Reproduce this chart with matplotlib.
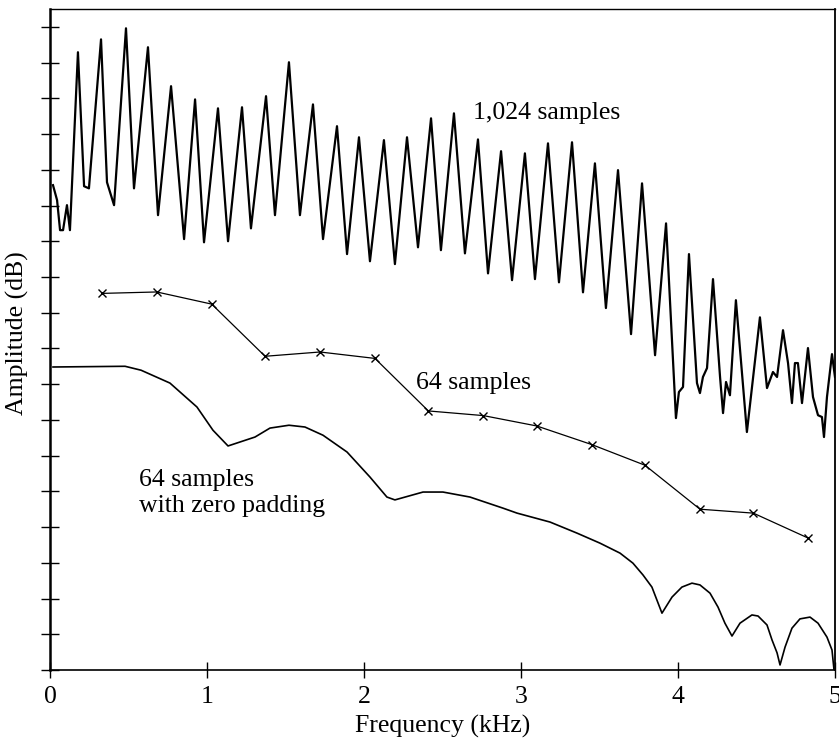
import matplotlib
matplotlib.use("Agg")
import matplotlib.pyplot as plt

plt.rcParams["font.family"] = ["Liberation Serif", "DejaVu Serif"]

# ── Spectrum of the 1,024-sample record (peak / trough vertices) ─────────────
freq_1024 = [0.019, 0.045, 0.064, 0.083, 0.108, 0.127, 0.178, 0.217, 0.248,
             0.325, 0.363, 0.408, 0.484, 0.535, 0.624, 0.688, 0.771, 0.854,
             0.924, 0.981, 1.070, 1.134, 1.223, 1.280, 1.376, 1.433, 1.522,
             1.592, 1.675, 1.739, 1.828, 1.892, 1.968, 2.038, 2.127, 2.197,
             2.274, 2.344, 2.427, 2.490, 2.573, 2.643, 2.726, 2.790, 2.873,
             2.943, 3.025, 3.089, 3.172, 3.242, 3.325, 3.395, 3.471, 3.541,
             3.618, 3.701, 3.771, 3.854, 3.924, 3.987, 4.006, 4.032, 4.070,
             4.121, 4.140, 4.159, 4.185, 4.223, 4.268, 4.287, 4.306, 4.331,
             4.369, 4.439, 4.522, 4.567, 4.605, 4.631, 4.669, 4.701, 4.726,
             4.745, 4.764, 4.790, 4.828, 4.860, 4.892, 4.917, 4.930, 4.949,
             4.981, 5.000]
amp_1024 = [13.57, 13.15, 12.31, 12.31, 13.01, 12.31, 17.29, 13.54, 13.48,
            17.65, 13.65, 13.01, 17.96, 13.48, 17.43, 12.73, 16.34, 12.06,
            15.97, 11.97, 15.72, 12.00, 15.75, 12.36, 16.06, 12.73, 17.01,
            12.73, 15.83, 12.06, 15.22, 11.64, 14.91, 11.44, 14.83, 11.36,
            14.91, 11.83, 15.44, 11.75, 15.58, 11.66, 14.85, 11.10, 14.52,
            10.91, 14.46, 10.94, 14.74, 10.85, 14.77, 10.57, 14.18, 10.13,
            13.99, 9.40, 13.62, 8.81, 12.50, 7.05, 7.78, 7.92, 11.64,
            8.03, 7.75, 8.20, 8.45, 10.94, 8.20, 7.19, 8.06, 7.69,
            10.35, 6.66, 9.87, 7.89, 8.34, 8.20, 9.51, 8.59, 7.47,
            8.59, 8.59, 7.47, 9.01, 7.64, 7.13, 7.08, 6.52, 7.64,
            8.84, 8.20]

# ── 64-sample record, one value per bin ──────────────────────────────────────
freq_64 = [0.33, 0.68, 1.03, 1.37, 1.72, 2.07, 2.41, 2.76, 3.10, 3.45,
           3.79, 4.14, 4.48, 4.83]
amp_64 = [10.54, 10.58, 10.24, 8.78, 8.90, 8.72, 7.25, 7.12, 6.83, 6.31,
          5.73, 4.50, 4.39, 3.69]

# ── 64 samples with zero padding ─────────────────────────────────────────────
freq_zp = [0.019, 0.478, 0.580, 0.764, 0.936, 1.038, 1.134, 1.306, 1.401,
           1.522, 1.624, 1.739, 1.892, 2.038, 2.146, 2.197, 2.376, 2.503,
           2.675, 2.885, 2.975, 3.185, 3.357, 3.503, 3.631, 3.713, 3.777,
           3.834, 3.898, 3.962, 4.025, 4.089, 4.140, 4.204, 4.255, 4.299,
           4.344, 4.395, 4.471, 4.510, 4.567, 4.599, 4.631, 4.650, 4.682,
           4.726, 4.777, 4.841, 4.892, 4.949, 4.981, 4.994]
amp_zp = [8.48, 8.50, 8.39, 8.03, 7.36, 6.71, 6.27, 6.52, 6.77,
          6.85, 6.80, 6.57, 6.10, 5.40, 4.84, 4.76, 4.98, 4.98,
          4.84, 4.53, 4.39, 4.14, 3.83, 3.55, 3.27, 2.99, 2.66,
          2.32, 1.59, 2.04, 2.32, 2.43, 2.38, 2.15, 1.76, 1.31,
          0.95, 1.31, 1.54, 1.51, 1.26, 0.84, 0.48, 0.14, 0.64,
          1.17, 1.43, 1.48, 1.31, 0.92, 0.56, 0.00]

x_ticks = [0, 1, 2, 3, 4, 5]
y_ticks = list(range(0, 19))

FS = 18.5

fig = plt.figure(figsize=(8.39, 7.44), dpi=100)
ax = fig.add_axes([0.0596, 0.0995, 0.9356, 0.8884])

ax.plot(freq_1024, amp_1024, color="black", linewidth=1.6)
ax.plot(freq_64, amp_64, color="black", linewidth=0.9,
        marker="x", markersize=6, markeredgewidth=1.0)
ax.plot(freq_zp, amp_zp, color="black", linewidth=1.2)

ax.text(2.694, 15.58, "1,024 samples", fontsize=FS, ha="left", va="center")
ax.text(2.331, 8.03, "64 samples", fontsize=FS, ha="left", va="center")
ax.text(0.567, 4.95, "64 samples\nwith zero padding", fontsize=FS,
        ha="left", va="center", linespacing=1.2)

ax.set_xlim(0, 5)
ax.set_ylim(0, 18.5)
ax.set_xticks(x_ticks)
ax.set_xticklabels([str(t) for t in x_ticks], fontsize=FS)
ax.set_yticks(y_ticks)
ax.set_yticklabels([])
ax.tick_params(axis="x", direction="inout", length=11, width=1.0, pad=6)
ax.tick_params(axis="y", direction="inout", length=13, width=1.0)

ax.spines["left"].set_linewidth(1.8)
ax.spines["bottom"].set_linewidth(1.2)
ax.spines["top"].set_linewidth(1.0)
ax.spines["right"].set_linewidth(1.3)

ax.set_xlabel("Frequency (kHz)", fontsize=FS, labelpad=5)
ax.set_ylabel("Amplitude (dB)", fontsize=FS)
ax.yaxis.set_label_coords(-0.027, 0.51)

fig.savefig("out.png", dpi=100)
